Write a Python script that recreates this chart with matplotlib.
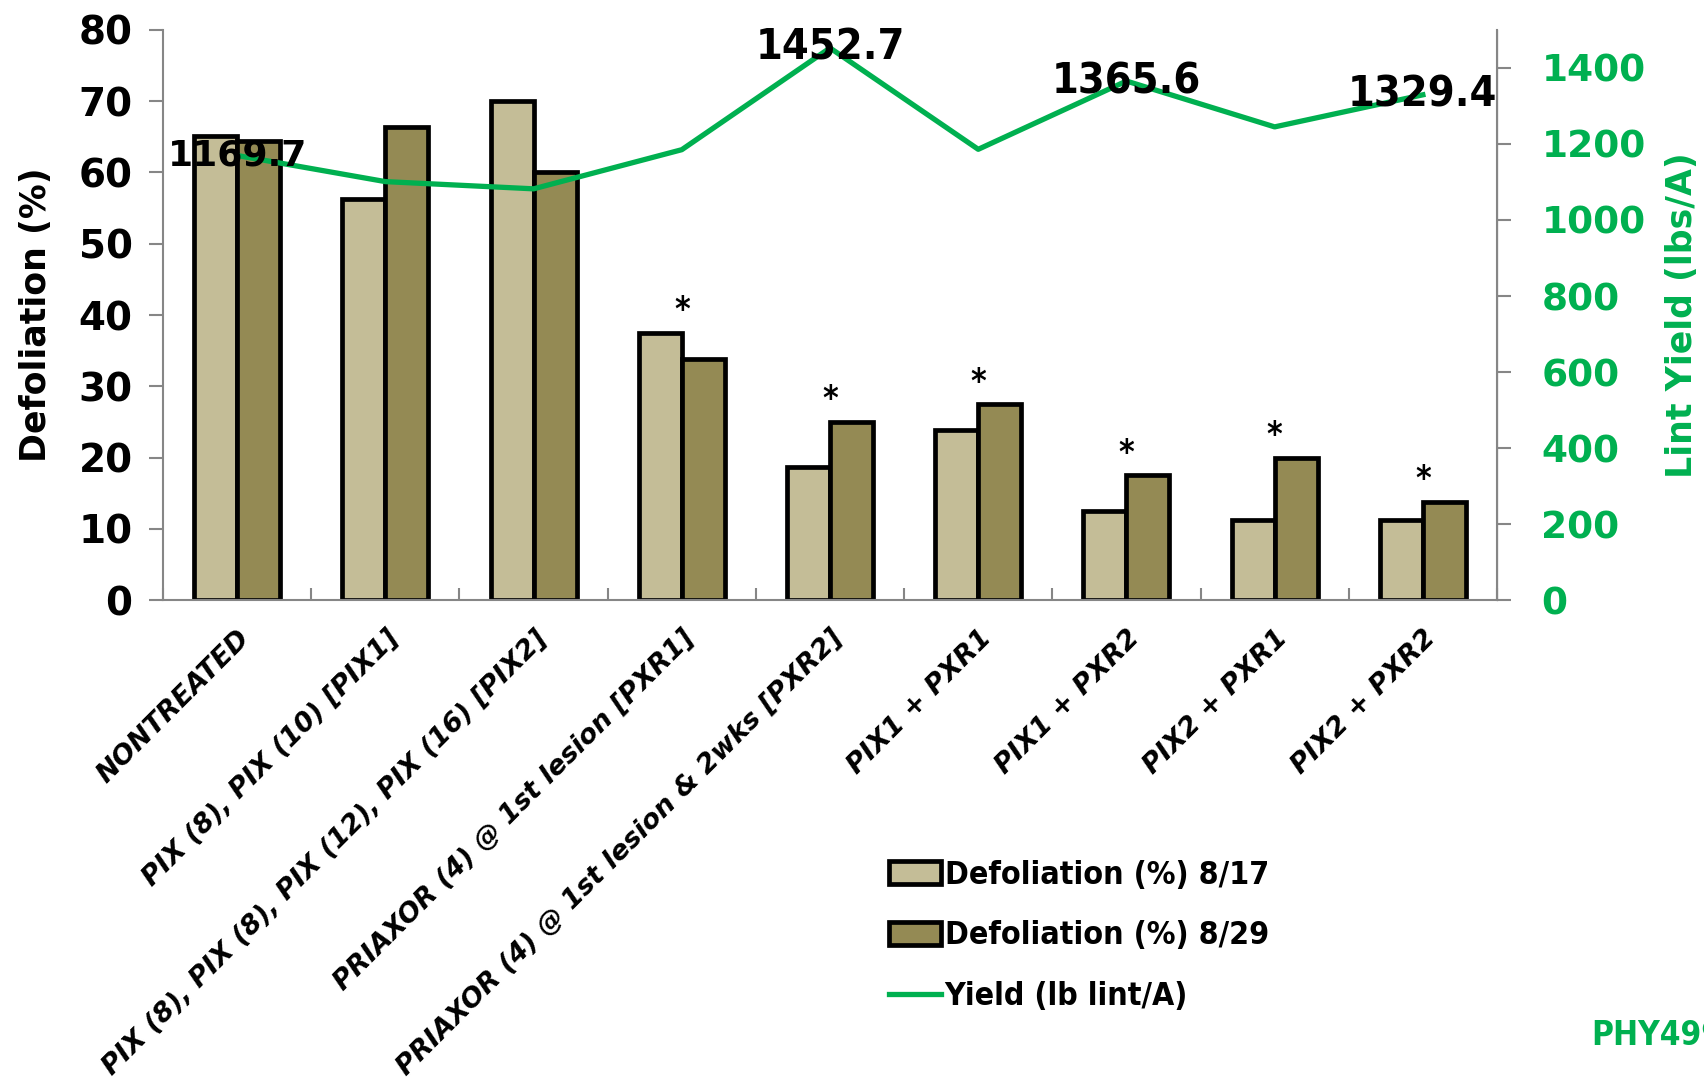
import numpy as np
import matplotlib
matplotlib.use("Agg")
import matplotlib.pyplot as plt
from matplotlib.patches import Patch
from matplotlib.lines import Line2D
from matplotlib import font_manager

# ---------------------------------------------------------------
# Datos
# ---------------------------------------------------------------
tratamientos = [
    "NONTREATED",
    "PIX (8), PIX (10) [PIX1]",
    "PIX (8), PIX (8), PIX (12), PIX (16) [PIX2]",
    "PRIAXOR (4) @ 1st lesion [PXR1]",
    "PRIAXOR (4) @ 1st lesion & 2wks [PXR2]",
    "PIX1 + PXR1",
    "PIX1 + PXR2",
    "PIX2 + PXR1",
    "PIX2 + PXR2",
]
defol_817 = [65.1, 56.3, 70.1, 37.5, 18.7, 23.8, 12.5, 11.3, 11.3]
defol_829 = [64.4, 66.4, 60.0, 33.8, 25.0, 27.5, 17.5, 20.0, 13.8]
rendimiento = [1169.7, 1101, 1082, 1185, 1452.7, 1186, 1365.6, 1245, 1329.4]
etiquetas_rend = [0, 4, 6, 8]          # puntos con etiqueta de valor
con_asterisco = [3, 4, 5, 6, 7, 8]     # diferencias significativas

C_CLARO = "#C4BD97"
C_OSCURO = "#948A54"
C_VERDE = "#00B050"
C_EJE = "#868686"

# fuente estrecha (tipo Calibri) si existe
nombres = {f.name for f in font_manager.fontManager.ttflist}
NARROW = "Liberation Sans Narrow" if "Liberation Sans Narrow" in nombres else "DejaVu Sans"
ESTRECHA = dict(family=NARROW, stretch="condensed", weight="bold")

fig = plt.figure(figsize=(17.04, 10.90), dpi=100)
ax = fig.add_axes([0.0957, 0.4495, 0.7828, 0.523])
ax2 = ax.twinx()

x = np.arange(len(tratamientos))
w = 0.29
ax.bar(x - w / 2, defol_817, w, color=C_CLARO, edgecolor="black", linewidth=3.4, zorder=2)
ax.bar(x + w / 2, defol_829, w, color=C_OSCURO, edgecolor="black", linewidth=3.4, zorder=2)

for i in con_asterisco:
    top = max(defol_817[i], defol_829[i])
    ax.annotate("*", (x[i], top), xytext=(0, 4), textcoords="offset points",
                ha="center", va="bottom", fontsize=24, **ESTRECHA)

ax2.plot(x, rendimiento, color=C_VERDE, linewidth=3.8, zorder=3)
for i in etiquetas_rend:
    if i == 0:
        ax2.text(x[i], rendimiento[i], f"{rendimiento[i]:.1f}", ha="center",
                 va="center", fontsize=26, fontweight="bold", zorder=4)
    else:
        ax2.text(x[i], rendimiento[i], f"{rendimiento[i]:.1f}", ha="center",
                 va="center", fontsize=31, zorder=4, **ESTRECHA)

# ejes
ax.set_xlim(-0.5, len(tratamientos) - 0.5)
ax.set_ylim(0, 80)
ax.set_yticks(np.arange(0, 81, 10))
ax2.set_ylim(0, 1500)
ax2.set_yticks(np.arange(0, 1401, 200))

ax.spines["top"].set_visible(False)
ax2.spines["top"].set_visible(False)
for sp in ["left", "bottom"]:
    ax.spines[sp].set_color(C_EJE)
    ax.spines[sp].set_linewidth(1.5)
ax2.spines["right"].set_color(C_EJE)
ax2.spines["right"].set_linewidth(1.5)
ax2.spines["left"].set_visible(False)
ax2.spines["bottom"].set_visible(False)

ax.tick_params(axis="y", direction="out", length=10, width=1.5, color=C_EJE,
               labelsize=28, pad=12)
ax2.tick_params(axis="y", direction="out", length=10, width=1.5, color=C_EJE,
                labelsize=27, labelcolor=C_VERDE, pad=22)
for lab in ax.get_yticklabels() + ax2.get_yticklabels():
    lab.set_fontweight("bold")

ax.set_xticks(x)
ax.set_xticklabels(tratamientos, rotation=45, ha="right", va="top",
                   rotation_mode="anchor", fontsize=19.5, fontweight="bold",
                   fontstyle="italic")
ax.tick_params(axis="x", which="major", length=0, pad=18)
ax.set_xticks(np.arange(-0.5, len(tratamientos)), minor=True)
ax.tick_params(axis="x", which="minor", direction="in", length=9, width=1.5,
               color=C_EJE)

ax.set_ylabel("Defoliation (%)", fontsize=25, fontweight="bold", labelpad=18)
ax2.set_ylabel("Lint Yield (lbs/A)", fontsize=25, fontweight="bold",
               color=C_VERDE, labelpad=14)

ax.set_zorder(ax2.get_zorder() - 1)
ax.patch.set_visible(False)

# leyenda
handles = [
    Patch(facecolor=C_CLARO, edgecolor="black", linewidth=3.4),
    Patch(facecolor=C_OSCURO, edgecolor="black", linewidth=3.4),
    Line2D([], [], color=C_VERDE, linewidth=3.8),
]
labels = ["Defoliation (%) 8/17", "Defoliation (%) 8/29", "Yield (lb lint/A)"]
fig.legend(handles, labels, loc="upper left", bbox_to_anchor=(0.514, 0.223),
           frameon=False, prop=dict(size=23, **ESTRECHA),
           handlelength=1.65, handleheight=0.72, handletextpad=0.1,
           labelspacing=0.93, borderaxespad=0)

fig.text(0.934, 0.050, "PHY499WRF", color=C_VERDE, fontsize=24,
         va="center", ha="left", **ESTRECHA)

fig.savefig("out.png", dpi=100)
